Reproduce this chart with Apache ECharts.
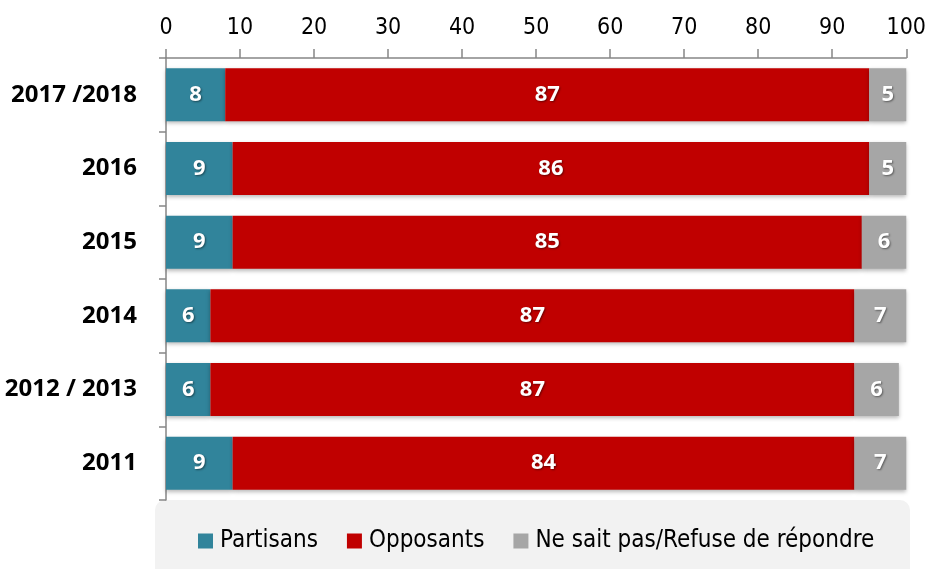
<!DOCTYPE html>
<html>
<head>
<meta charset="utf-8">
<script src="https://cdn.jsdelivr.net/npm/echarts@6/dist/echarts.min.js"></script>
<style>
  html, body { margin: 0; padding: 0; background: #ffffff; }
  #chart { width: 929px; height: 569px; }
</style>
</head>
<body>
<div id="chart"></div>
<script>
// Survey years, top to bottom
const categories = ['2017 /2018', '2016', '2015', '2014', '2012 / 2013', '2011'];
// Share of respondents (%)
const partisans = [8, 9, 9, 6, 6, 9];
const opposants = [87, 86, 85, 87, 87, 84];
const neSaitPas = [5, 5, 6, 7, 6, 7];
const seriesNames = ['Partisans', 'Opposants', 'Ne sait pas/Refuse de répondre'];
const seriesColors = ['#31849B', '#C00000', '#A6A6A6'];

const labelFont = "'Open Sans', 'Liberation Sans', sans-serif";
const axisFont = "'DejaVu Sans Condensed', 'DejaVu Sans', sans-serif";

const chart = echarts.init(document.getElementById('chart'), null, { renderer: 'canvas' });

function makeSeries(name, data, color) {
  return {
    name: name,
    type: 'bar',
    stack: 'total',
    data: data,
    barCategoryGap: '28%',
    itemStyle: {
      color: color,
      shadowBlur: 4,
      shadowOffsetY: 2,
      shadowColor: 'rgba(0,0,0,0.28)'
    },
    label: {
      show: true,
      position: 'inside',
      color: '#ffffff',
      fontFamily: labelFont,
      fontWeight: 'bold',
      fontSize: 22,
      textShadowColor: 'rgba(0,0,0,0.45)',
      textShadowBlur: 2,
      textShadowOffsetX: 1,
      textShadowOffsetY: 1
    },
    emphasis: { disabled: true }
  };
}

chart.setOption({
  animation: false,
  graphic: [{
    type: 'rect',
    z: -1,
    shape: { x: 155, y: 500, width: 755, height: 90, r: 10 },
    style: { fill: '#F2F2F2' }
  }],
  grid: { left: 166, right: 21, top: 58, bottom: 69, containLabel: false },
  legend: {
    data: seriesNames,
    top: 529,
    left: 198,
    padding: 0,
    itemWidth: 15,
    itemHeight: 15,
    itemGap: 29,
    icon: 'rect',
    textStyle: { fontFamily: axisFont, fontSize: 24, color: '#000000', padding: [0, 0, 0, 2] }
  },
  xAxis: {
    type: 'value',
    position: 'top',
    min: 0,
    max: 100,
    interval: 10,
    splitLine: { show: false },
    axisLine: { show: true, lineStyle: { color: '#868686', width: 1.5 } },
    axisTick: { show: true, inside: false, length: 9, lineStyle: { color: '#868686', width: 1.5 } },
    axisLabel: { fontFamily: axisFont, fontSize: 23, color: '#000000', margin: 18 }
  },
  yAxis: {
    type: 'category',
    data: categories,
    inverse: true,
    axisLine: { show: true, lineStyle: { color: '#868686', width: 1.5 } },
    axisTick: { show: true, inside: false, length: 7, lineStyle: { color: '#868686', width: 1.5 } },
    axisLabel: { fontFamily: labelFont, fontWeight: 'bold', fontSize: 24, color: '#000000', margin: 29 }
  },
  series: [
    makeSeries(seriesNames[0], partisans, seriesColors[0]),
    makeSeries(seriesNames[1], opposants, seriesColors[1]),
    makeSeries(seriesNames[2], neSaitPas, seriesColors[2])
  ]
});
</script>
</body>
</html>
